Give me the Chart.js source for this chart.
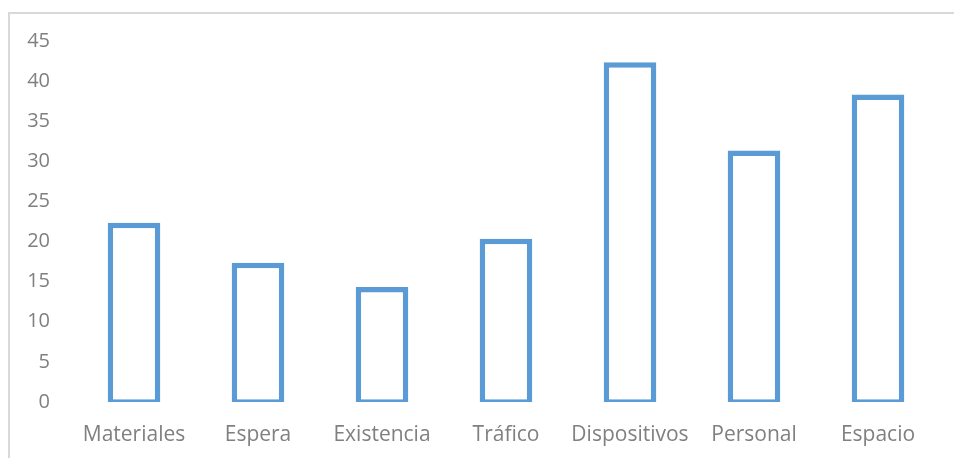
<!doctype html>
<html>
<head>
	<meta charset="utf-8">
	<title>Bar Chart</title>
	<script src="https://cdn.jsdelivr.net/npm/chart.js@4.4.0/dist/chart.umd.min.js"></script>
	<style>
		html, body { margin: 0; padding: 0; background: #fff; overflow: hidden; }
		#frame {
			position: absolute; left: 8px; top: 12px; width: 1000px; height: 500px;
			border-top: 2px solid #d9d9d9; border-left: 2px solid #d9d9d9;
		}
		#container { position: absolute; left: 0; top: 0; width: 954px; height: 458px; }
	</style>
</head>
<body>
	<div id="frame"></div>
	<div id="container"><canvas id="canvas" width="954" height="458"></canvas></div>
	<script>
		var categories = ['Materiales', 'Espera', 'Existencia', 'Tráfico', 'Dispositivos', 'Personal', 'Espacio'];
		var values = [22, 17, 14, 20, 42, 31, 38];
		var yMin = 0, yMax = 45, yStep = 5;

		var blue = '#5b9bd5';
		var grey = '#808080';
		var stroke = 5.5;

		// Chart.js draws the border inside the bar; the original centres it on the edge
		var centredStroke = {
			id: 'centredStroke',
			afterDatasetsUpdate: function (chart) {
				var h = stroke / 2;
				chart.getDatasetMeta(0).data.forEach(function (el) {
					el.y -= h;
					el.base += h;
					el.width += stroke;
				});
			}
		};

		var ctx = document.getElementById('canvas').getContext('2d');
		window.myBar = new Chart(ctx, {
			type: 'bar',
			data: {
				labels: categories,
				datasets: [{
					data: values,
					backgroundColor: '#ffffff',
					borderColor: blue,
					borderWidth: stroke,
					borderSkipped: false,
					barPercentage: 0.38,
					categoryPercentage: 1
				}]
			},
			plugins: [centredStroke],
			options: {
				responsive: false,
				animation: false,
				layout: { padding: { top: 41, right: 14, bottom: 0, left: 0 } },
				plugins: { legend: { display: false }, tooltip: { enabled: false } },
				scales: {
					x: {
						grid: { display: false, drawTicks: false },
						border: { display: false },
						ticks: { color: grey, padding: 20, font: { family: 'Open Sans', size: 21 }, maxRotation: 0 },
						afterFit: function (scale) { scale.height = 56; }
					},
					y: {
						min: yMin, max: yMax,
						grid: { display: false, drawTicks: false },
						border: { display: false },
						ticks: { stepSize: yStep, color: grey, padding: 22, font: { family: 'Open Sans', size: 20 } },
						afterFit: function (scale) { scale.width = 72; }
					}
				}
			}
		});
	</script>
</body>
</html>
